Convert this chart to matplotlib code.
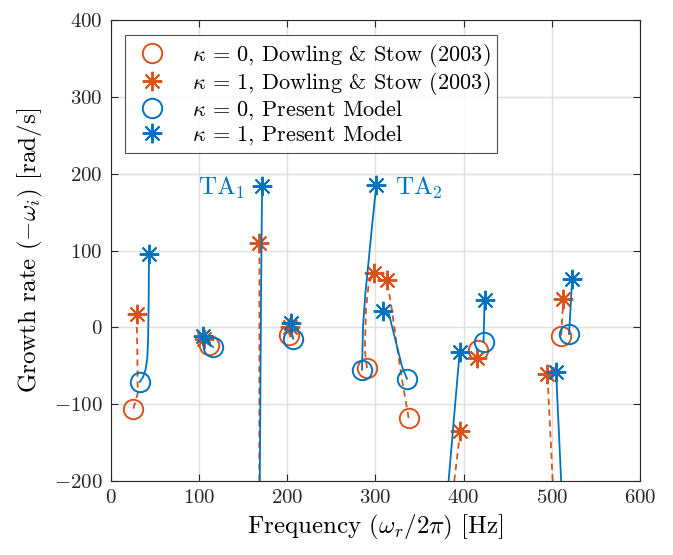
import matplotlib
matplotlib.use("Agg")
import matplotlib.pyplot as plt
from matplotlib.lines import Line2D

plt.rcParams["font.family"] = "serif"
plt.rcParams["font.serif"] = ["cmr10"]
plt.rcParams["mathtext.fontset"] = "cm"
plt.rcParams["axes.unicode_minus"] = False
plt.rcParams["axes.formatter.use_mathtext"] = True

BLUE = "#0072BD"
ORANGE = "#D95319"

# Present model: trajectories from kappa=0 (circle) to kappa=1 (star)
pm_mode1_f = [33.0, 36.5, 39.5, 41.5, 42.4, 43.0, 43.4]
pm_mode1_g = [-71.0, -65.0, -55.0, -40.0, -15.0, 30.0, 96.0]
pm_mode2_f = [116.0, 110.0, 104.5]
pm_mode2_g = [-25.6, -20.0, -11.7]
pm_ta1_f = [168.2, 169.0, 170.4, 171.6]
pm_ta1_g = [-270.0, -200.0, 40.0, 183.5]
pm_mode3_f = [206.8, 205.0, 204.5]
pm_mode3_g = [-14.8, -5.0, 5.6]
pm_ta2_f = [284.9, 286.0, 288.7, 292.5, 296.2, 301.1]
pm_ta2_g = [-55.0, 1.3, 44.7, 88.0, 131.5, 185.7]
pm_mode4_f = [335.8, 330.2, 322.6, 315.1, 308.3]
pm_mode4_g = [-66.8, -50.8, -16.0, 18.7, 20.8]
pm_mode5_f = [378.0, 383.0, 395.5]
pm_mode5_g = [-270.0, -200.0, -32.5]
pm_mode6_f = [422.6, 423.8]
pm_mode6_g = [-18.7, 35.6]
pm_mode7_f = [512.5, 510.6, 504.9]
pm_mode7_g = [-270.0, -200.0, -58.6]
pm_mode8_f = [519.5, 521.5, 523.0]
pm_mode8_g = [-8.7, 30.0, 62.8]

# Dowling & Stow (2003)
ds_mode1_f = [25.7, 30.6, 30.2, 29.4]
ds_mode1_g = [-105.7, -86.0, -33.6, 17.5]
ds_mode2_f = [111.0, 105.3]
ds_mode2_g = [-22.6, -14.8]
ds_ta1_f = [168.3, 168.4, 168.6]
ds_ta1_g = [-270.0, -200.0, 109.8]
ds_mode3_f = [202.0, 203.0]
ds_mode3_g = [-9.5, 0.0]
ds_ta2_f = [290.6, 288.0, 289.4, 292.5, 298.9]
ds_ta2_g = [-53.0, -30.0, 23.0, 57.7, 70.7]
ds_mode4_f = [337.7, 330.2, 324.5, 318.1, 313.2]
ds_mode4_g = [-118.0, -68.0, -24.7, 27.3, 61.0]
ds_mode5_f = [383.0, 389.4, 396.2]
ds_mode5_g = [-270.0, -200.0, -135.4]
ds_mode6_f = [415.8, 415.0]
ds_mode6_g = [-29.5, -40.3]
ds_mode7_f = [503.5, 501.0, 495.0]
ds_mode7_g = [-270.0, -200.0, -61.0]
ds_mode8_f = [510.6, 513.2]
ds_mode8_g = [-10.8, 37.2]

pm_paths = [
    (pm_mode1_f, pm_mode1_g), (pm_mode2_f, pm_mode2_g), (pm_ta1_f, pm_ta1_g),
    (pm_mode3_f, pm_mode3_g), (pm_ta2_f, pm_ta2_g), (pm_mode4_f, pm_mode4_g),
    (pm_mode5_f, pm_mode5_g), (pm_mode6_f, pm_mode6_g), (pm_mode7_f, pm_mode7_g),
    (pm_mode8_f, pm_mode8_g),
]
ds_paths = [
    (ds_mode1_f, ds_mode1_g), (ds_mode2_f, ds_mode2_g), (ds_ta1_f, ds_ta1_g),
    (ds_mode3_f, ds_mode3_g), (ds_ta2_f, ds_ta2_g), (ds_mode4_f, ds_mode4_g),
    (ds_mode5_f, ds_mode5_g), (ds_mode6_f, ds_mode6_g), (ds_mode7_f, ds_mode7_g),
    (ds_mode8_f, ds_mode8_g),
]

legend_labels = [
    r"$\kappa$ = 0, Dowling & Stow (2003)",
    r"$\kappa$ = 1, Dowling & Stow (2003)",
    r"$\kappa$ = 0, Present Model",
    r"$\kappa$ = 1, Present Model",
]

STAR = (8, 2, 0)
MK = dict(linestyle="none", markerfacecolor="none", markeredgewidth=1.4)

fig = plt.figure(figsize=(6.73, 5.55), dpi=100)
ax = fig.add_axes([0.1645, 0.1333, 0.7865, 0.8306])

for f, g in ds_paths:
    ax.plot(f, g, color=ORANGE, linestyle=(0, (3.5, 2.5)), lw=1.3)
    ax.plot(f[0], g[0], marker="o", ms=14, color=ORANGE, **MK)
    ax.plot(f[-1], g[-1], marker=STAR, ms=14, color=ORANGE, **MK)
for f, g in pm_paths:
    ax.plot(f, g, color=BLUE, lw=1.3)
    ax.plot(f[0], g[0], marker="o", ms=14, color=BLUE, **MK)
    ax.plot(f[-1], g[-1], marker=STAR, ms=14, color=BLUE, **MK)

ax.text(152, 182, r"TA$_1$", color=BLUE, fontsize=18, ha="right", va="center")
ax.text(322, 182, r"TA$_2$", color=BLUE, fontsize=18, ha="left", va="center")

ax.set_xlim(0, 600)
ax.set_ylim(-200, 400)
ax.set_xticks(range(0, 601, 100))
ax.set_yticks(range(-200, 401, 100))
ax.grid(True, color="#e0e0e0", lw=1.0)
ax.set_axisbelow(True)
ax.tick_params(direction="in", length=5, width=0.8, labelsize=15,
               top=True, right=True, colors="#262626", pad=6)
for s in ax.spines.values():
    s.set_color("#262626")
    s.set_linewidth(0.8)

ax.set_xlabel(r"Frequency $(\omega_r/2\pi)$ [Hz]", fontsize=18, labelpad=4)
ax.set_ylabel(r"Growth rate $(-\omega_i)$ [rad/s]", fontsize=18, labelpad=6)

handles = [
    Line2D([], [], marker="o", ms=14, color=ORANGE, **MK),
    Line2D([], [], marker=STAR, ms=14, color=ORANGE, **MK),
    Line2D([], [], marker="o", ms=14, color=BLUE, **MK),
    Line2D([], [], marker=STAR, ms=14, color=BLUE, **MK),
]
leg = ax.legend(handles, legend_labels, loc="upper left", bbox_to_anchor=(0.027, 0.967),
                fontsize=16, frameon=True, fancybox=False, edgecolor="#262626",
                borderaxespad=0, handlelength=1.8, handletextpad=0.9,
                labelspacing=0.05, borderpad=0.3)
leg.get_frame().set_linewidth(0.8)

fig.savefig("out.png", dpi=100)
